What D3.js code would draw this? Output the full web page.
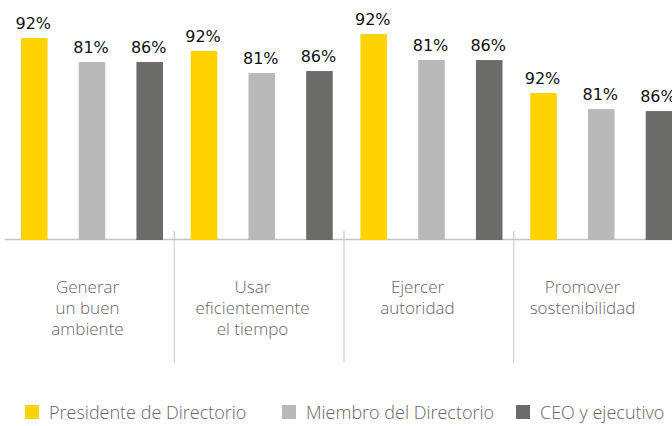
<!DOCTYPE html>
<html>
<head>
<meta charset="utf-8">
<script src="https://cdn.jsdelivr.net/npm/d3@7"></script>
<style>
  body { margin: 0; background: #fff; }
  svg { display: block; }
</style>
</head>
<body>
<div id="chart"></div>
<script>
const groups = ['Generar un buen ambiente', 'Usar eficientemente el tiempo', 'Ejercer autoridad', 'Promover sostenibilidad'];
const groupLines = [['Generar', 'un buen', 'ambiente'], ['Usar', 'eficientemente', 'el tiempo'], ['Ejercer', 'autoridad'], ['Promover', 'sostenibilidad']];
const series = ['Presidente de Directorio', 'Miembro del Directorio', 'CEO y ejecutivo'];
const valueLabels = ['92%', '81%', '86%'];
// bar heights as drawn in the source (each panel was scaled on its own)
const presidente = [91.8, 85.9, 93.6, 66.8];
const miembro = [80.9, 75.9, 81.8, 59.5];
const ceo = [80.9, 76.8, 81.8, 58.6];
const colors = ['#FFD300', '#B9B9B9', '#6B6B69'];

const width = 672, height = 426;
const baseY = 240;

const svg = d3.select('#chart').append('svg')
    .attr('width', width)
    .attr('height', height);

const x0 = d3.scaleBand().domain(groups).range([5, 684]);
const x1 = d3.scaleBand().domain(series).range([16, 158]).paddingInner(0.54).paddingOuter(0);
const xLabel = d3.scaleBand().domain(groups).range([5, 665]);
const y = d3.scaleLinear().domain([0, 100]).range([baseY, 20]);

const rows = groups.map((g, i) => ({
    group: g,
    values: [presidente[i], miembro[i], ceo[i]]
}));

// baseline
svg.append('line')
    .attr('x1', 5).attr('x2', width)
    .attr('y1', baseY - 0.5).attr('y2', baseY - 0.5)
    .style('stroke', '#c4c4c4')
    .style('stroke-width', 1.5);

// separators between groups
svg.selectAll('.sep')
    .data(groups.slice(1))
    .join('line')
    .attr('class', 'sep')
    .attr('x1', d => x0(d) - 0.5)
    .attr('x2', d => x0(d) - 0.5)
    .attr('y1', 231)
    .attr('y2', 363)
    .style('stroke', '#c4c4c4')
    .style('stroke-width', 1);

const g = svg.selectAll('.grp')
    .data(rows)
    .join('g')
    .attr('class', 'grp')
    .attr('transform', d => `translate(${x0(d.group)},0)`);

g.selectAll('rect')
    .data(d => d.values.map((v, j) => ({ s: series[j], v, j })))
    .join('rect')
    .attr('x', d => x1(d.s))
    .attr('y', d => y(d.v))
    .attr('width', x1.bandwidth())
    .attr('height', d => baseY - y(d.v))
    .style('fill', d => colors[d.j]);

g.selectAll('.val')
    .data(d => d.values.map((v, j) => ({ s: series[j], v, j })))
    .join('text')
    .attr('class', 'val')
    .attr('x', d => x1(d.s) + x1.bandwidth() / 2 - 1)
    .attr('y', d => y(d.v) - 9)
    .attr('text-anchor', 'middle')
    .style('font-family', 'DejaVu Sans, sans-serif')
    .style('font-size', '16px')
    .style('fill', '#111')
    .text(d => valueLabels[d.j]);

// category labels
svg.selectAll('.cat')
    .data(groups)
    .join('text')
    .attr('class', 'cat')
    .attr('text-anchor', 'middle')
    .style('font-family', 'Open Sans, sans-serif')
    .style('font-weight', 300)
    .style('font-size', '17px')
    .style('fill', '#666')
    .each(function(d, i) {
        d3.select(this).selectAll('tspan')
            .data(groupLines[i])
            .join('tspan')
            .attr('x', xLabel(d) + xLabel.bandwidth() / 2)
            .attr('y', (t, k) => 293 + k * 21)
            .text(t => t);
    });

// legend
const legendX = [25, 282, 516];
const legend = svg.selectAll('.leg')
    .data(series)
    .join('g')
    .attr('class', 'leg')
    .attr('transform', (d, i) => `translate(${legendX[i]},405)`);

legend.append('rect')
    .attr('width', 14)
    .attr('height', 14)
    .style('fill', (d, i) => colors[i]);

legend.append('text')
    .attr('x', 24)
    .attr('y', 13.5)
    .style('font-family', 'Open Sans, sans-serif')
    .style('font-weight', 300)
    .style('font-size', '18px')
    .style('fill', '#666')
    .text(d => d);
</script>
</body>
</html>
